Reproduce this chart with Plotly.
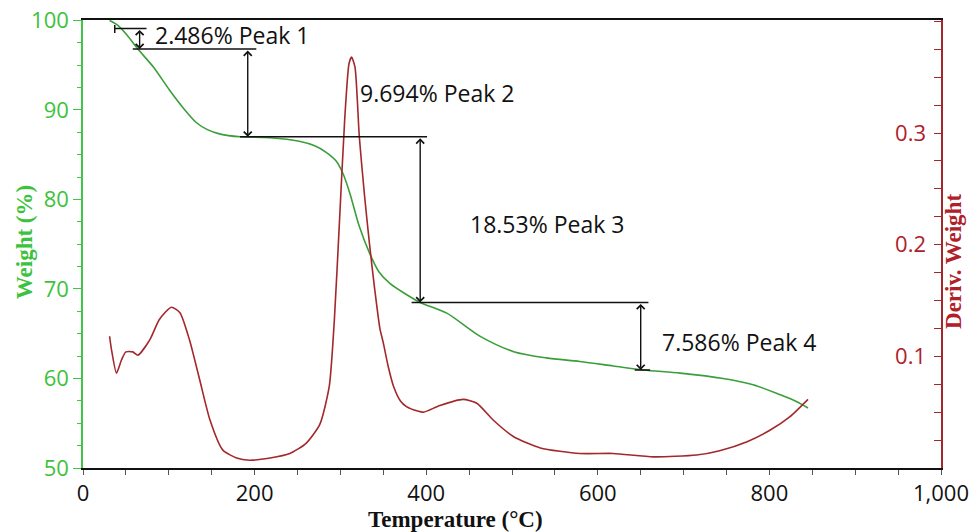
import plotly.graph_objects as go

# ---- data ----
temp_w = [31, 40, 51, 64, 82, 101, 117, 132, 145, 160, 183, 218, 252, 270, 283, 295, 303,
          311, 322, 334, 345, 358, 375, 393, 424, 463, 502, 540, 579, 618, 653, 696, 746,
          781, 812, 832, 845]
weight = [100.0, 99.5, 98.4, 96.8, 94.8, 92.2, 90.2, 88.6, 87.8, 87.3, 87.0, 86.9, 86.5,
          86.0, 85.3, 84.3, 82.9, 80.7, 77.0, 74.0, 71.9, 70.6, 69.5, 68.5, 67.3, 64.7, 63.0,
          62.3, 61.9, 61.4, 60.95, 60.6, 60.0, 59.3, 58.2, 57.4, 56.7]

temp_d = [31, 33, 39, 45, 50, 58, 64, 78, 89, 103, 113, 124, 136, 148, 163, 179, 194,
          218, 241, 260, 276, 287, 293, 299, 305, 310, 313, 317, 322, 328, 334, 340, 346,
          350, 356, 362, 370, 377, 390, 397, 416, 443, 459, 478, 502, 533, 579, 618, 665,
          715, 742, 774, 801, 824, 845]
deriv = [0.118, 0.107, 0.085, 0.097, 0.104, 0.104, 0.101, 0.115, 0.133, 0.144, 0.139,
         0.115, 0.079, 0.043, 0.016, 0.009, 0.007, 0.009, 0.013, 0.022, 0.039, 0.073,
         0.133, 0.222, 0.312, 0.362, 0.368, 0.359, 0.297, 0.245, 0.200, 0.160, 0.125,
         0.112, 0.090, 0.073, 0.060, 0.055, 0.051, 0.050, 0.056, 0.0615, 0.058, 0.043,
         0.028, 0.018, 0.013, 0.013, 0.010, 0.0116, 0.0155, 0.0236, 0.034, 0.046, 0.0615]

peak_labels = ["2.486% Peak 1", "9.694% Peak 2", "18.53% Peak 3", "7.586% Peak 4"]
peak_arrow_x = [66, 192, 393, 650]
peak_top = [99.1, 96.8, 87.0, 68.5]
peak_bottom = [96.8, 87.0, 68.5, 60.95]
label_x = [81.6, 321, 449, 672]
label_y = [98.4, 91.9, 77.3, 64.1]

step_x0 = [37, 58, 183, 383, 643]
step_x1 = [74, 202, 401, 659, 661]
step_y = [99.1, 96.8, 87.0, 68.5, 60.95]

x_ticks = [0, 200, 400, 600, 800, 1000]
w_ticks = [50, 60, 70, 80, 90, 100]
d_ticks = [0.1, 0.2, 0.3]

GREEN_LINE = "#3a9e3a"
GREEN_TXT = "#3cc23c"
RED_LINE = "#a3282c"
RED_TXT = "#b0202a"
SANS = "Open Sans"
SERIF = "Liberation Serif"
D_RANGE = [0, 0.4012]

fig = go.Figure()
fig.add_trace(go.Scatter(x=temp_w, y=weight, mode="lines",
                         line=dict(color=GREEN_LINE, width=1.6, shape="spline", smoothing=0.8),
                         name="Weight", yaxis="y", showlegend=False))
fig.add_trace(go.Scatter(x=temp_d, y=deriv, mode="lines",
                         line=dict(color=RED_LINE, width=1.6, shape="spline", smoothing=0.6),
                         name="Deriv. Weight", yaxis="y2", showlegend=False))
# invisible copy so the label-only axis (y3) is drawn
fig.add_trace(go.Scatter(x=temp_d, y=deriv, mode="lines", opacity=0, hoverinfo="skip",
                         line=dict(color=RED_LINE, width=0.1), yaxis="y3", showlegend=False))

shapes = []
for x0, x1, yv in zip(step_x0, step_x1, step_y):
    shapes.append(dict(type="line", xref="x", yref="y", x0=x0, x1=x1, y0=yv, y1=yv,
                       line=dict(color="#111111", width=1.5)))
# small end tick on first step line
shapes.append(dict(type="line", xref="x", yref="y", x0=step_x0[0], x1=step_x0[0],
                   y0=step_y[0] - 0.5, y1=step_y[0] + 0.4, line=dict(color="#111111", width=1.5)))

annotations = []
for xa, yt, yb in zip(peak_arrow_x, peak_top, peak_bottom):
    annotations.append(dict(x=xa, y=yb, ax=xa, ay=yt, xref="x", yref="y", axref="x", ayref="y",
                            text="", showarrow=True, arrowhead=4, startarrowhead=4,
                            arrowside="end+start", arrowsize=1.1, startarrowsize=1.1,
                            arrowwidth=1.4, arrowcolor="#111111", standoff=0, startstandoff=0))
for txt, xl, yl in zip(peak_labels, label_x, label_y):
    annotations.append(dict(x=xl, y=yl, xref="x", yref="y", text=txt, showarrow=False,
                            xanchor="left", yanchor="middle",
                            font=dict(family=SANS, size=23, color="#111111")))
annotations.append(dict(x=0.4336, y=-0.116, xref="paper", yref="paper", text="<b>Temperature (°C)</b>",
                        showarrow=False, xanchor="center", yanchor="middle",
                        font=dict(family=SERIF, size=23, color="#111111")))
annotations.append(dict(x=-0.0688, y=0.504, xref="paper", yref="paper", text="<b>Weight (%)</b>",
                        showarrow=False, xanchor="center", yanchor="middle", textangle=-90,
                        font=dict(family=SERIF, size=23, color=GREEN_TXT)))
annotations.append(dict(x=1.0152, y=0.46, xref="paper", yref="paper", text="<b>Deriv. Weight</b>",
                        showarrow=False, xanchor="center", yanchor="middle", textangle=-90,
                        font=dict(family=SERIF, size=23, color=RED_TXT)))

fig.update_layout(
    width=971, height=532,
    margin=dict(l=83, r=30, t=20, b=64, autoexpand=False),
    paper_bgcolor="white", plot_bgcolor="white",
    showlegend=False, hovermode=False,
    shapes=shapes, annotations=annotations,
    xaxis=dict(range=[0, 1000], tickvals=x_ticks, tickformat=",", showgrid=False, zeroline=False,
               automargin=False, ticklabeloverflow="allow",
               showline=True, linecolor="#111111", linewidth=2, mirror=True,
               ticks="outside", ticklen=5, tickcolor="#555555",
               minor=dict(dtick=50, tick0=0, ticks="outside", ticklen=5, tickcolor="#555555"),
               tickfont=dict(family=SANS, size=22, color="#111111")),
    yaxis=dict(range=[50, 100.05], tickvals=w_ticks, showgrid=False, zeroline=False,
               automargin=False, ticklabeloverflow="allow",
               showline=True, linecolor="#44c444", linewidth=1.5,
               ticks="outside", ticklen=8, tickcolor="#44c444",
               minor=dict(dtick=2.5, tick0=50, ticks="outside", ticklen=4, tickcolor="#44c444"),
               tickfont=dict(family=SANS, size=22, color=GREEN_TXT)),
    # right-hand derivative axis: line and inward ticks
    yaxis2=dict(range=D_RANGE, tickvals=d_ticks, overlaying="y", side="right", anchor="x",
                automargin=False, showticklabels=False,
                showgrid=False, zeroline=False, showline=True, linecolor=RED_LINE, linewidth=1.5,
                ticks="inside", ticklen=7, tickcolor=RED_LINE,
                minor=dict(dtick=0.025, tick0=0, ticks="inside", ticklen=7, tickcolor=RED_LINE)),
    # labels of the derivative axis, placed just inside the plot's right edge
    yaxis3=dict(range=D_RANGE, tickvals=d_ticks, overlaying="y", side="left", anchor="free",
                position=0.9825, automargin=False, showgrid=False, zeroline=False,
                showline=False, ticks="", ticklabeloverflow="allow",
                tickfont=dict(family=SANS, size=22, color=RED_TXT)),
)

fig.write_html("out.html")
